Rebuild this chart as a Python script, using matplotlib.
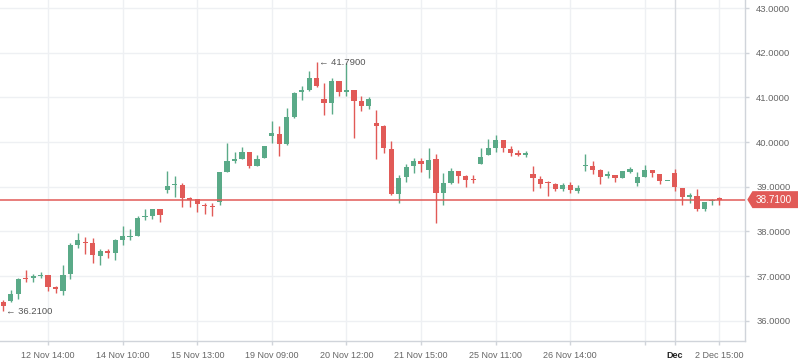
import numpy as np
import matplotlib
matplotlib.use("Agg")
import matplotlib.pyplot as plt
import matplotlib.transforms as mtransforms
from matplotlib.patches import Polygon

# OHLC values (one candle per index)
opens = [36.42, 36.44, 36.59, 36.95, 36.95, 36.99, 37.03, 36.75, 36.66, 37.04,
         37.69, 37.77, 37.73, 37.44, 37.57, 37.51, 37.80, 37.87, 37.90, 38.32,
         38.34, 38.49, 38.93, 39.04, 39.04, 38.74, 38.73, 38.58, 38.57, 38.65,
         39.32, 39.58, 39.62, 39.77, 39.46, 39.64, 40.14, 40.18, 39.95, 40.56,
         41.11, 41.17, 41.44, 40.96, 40.88, 41.37, 41.11, 41.17, 40.92, 40.81,
         40.43, 40.37, 39.85, 38.83, 39.21, 39.46, 39.58, 39.37, 39.63, 38.85,
         39.09, 39.36, 39.25, 39.16, 39.50, 39.70, 39.87, 40.04, 39.84, 39.76,
         39.72, 39.29, 39.18, 39.10, 39.07, 38.94, 39.04, 38.90, 39.46, 39.47,
         39.37, 39.23, 39.27, 39.19, 39.34, 39.09, 39.21, 39.38, 39.29, 39.12,
         39.31, 38.98, 38.76, 38.80, 38.49, 38.67, 38.72]
highs = [36.46, 36.69, 36.96, 37.13, 37.05, 37.08, 37.03, 36.77, 37.24, 37.75,
         37.96, 37.87, 37.86, 37.60, 37.60, 37.83, 38.11, 38.06, 38.34, 38.49,
         38.49, 38.49, 39.36, 39.25, 39.09, 38.76, 38.73, 38.63, 38.63, 39.32,
         39.97, 39.77, 39.88, 39.77, 39.71, 39.90, 40.47, 40.36, 40.77, 41.12,
         41.26, 41.59, 41.79, 41.32, 41.43, 41.37, 41.76, 41.17, 41.02, 41.00,
         40.72, 40.39, 40.03, 39.27, 39.51, 39.65, 39.65, 39.87, 39.74, 39.31,
         39.41, 39.36, 39.27, 39.27, 39.87, 40.07, 40.16, 40.04, 39.90, 39.83,
         39.80, 39.47, 39.25, 39.12, 39.09, 39.08, 39.10, 39.04, 39.74, 39.58,
         39.40, 39.36, 39.27, 39.36, 39.45, 39.34, 39.49, 39.38, 39.29, 39.13,
         39.40, 38.98, 38.86, 38.95, 38.66, 38.72, 38.78]
lows = [36.21, 36.41, 36.49, 36.87, 36.87, 36.96, 36.66, 36.62, 36.57, 36.93,
        37.63, 37.49, 37.29, 37.25, 37.40, 37.35, 37.70, 37.80, 37.89, 38.26,
        38.27, 38.22, 38.85, 38.76, 38.54, 38.54, 38.43, 38.39, 38.35, 38.60,
        39.32, 39.53, 39.62, 39.41, 39.46, 39.64, 39.97, 39.68, 39.93, 40.53,
        40.95, 41.14, 41.24, 40.60, 40.62, 41.02, 41.02, 40.08, 40.70, 40.74,
        39.62, 39.75, 38.81, 38.63, 39.10, 39.30, 39.34, 39.19, 38.18, 38.58,
        39.07, 39.09, 38.99, 39.09, 39.50, 39.70, 39.78, 39.78, 39.68, 39.68,
        39.66, 38.91, 38.98, 38.80, 38.90, 38.91, 38.85, 38.85, 39.36, 39.28,
        39.07, 39.19, 39.10, 39.19, 39.30, 39.01, 39.21, 39.21, 39.05, 39.12,
        38.91, 38.58, 38.63, 38.45, 38.45, 38.60, 38.60]
closes = [36.32, 36.59, 36.93, 36.93, 36.99, 37.03, 36.75, 36.71, 37.03, 37.69,
          37.80, 37.73, 37.47, 37.55, 37.51, 37.80, 37.89, 37.89, 38.31, 38.34,
          38.49, 38.36, 39.02, 39.05, 38.74, 38.71, 38.61, 38.56, 38.54, 39.32,
          39.58, 39.61, 39.77, 39.46, 39.63, 39.90, 40.20, 39.95, 40.56, 41.10,
          41.17, 41.44, 41.26, 40.88, 41.37, 41.11, 41.17, 40.92, 40.81, 40.96,
          40.37, 39.86, 38.83, 39.20, 39.43, 39.58, 39.50, 39.60, 38.85, 39.09,
          39.36, 39.25, 39.16, 39.14, 39.67, 39.87, 40.04, 39.86, 39.76, 39.72,
          39.76, 39.19, 39.07, 39.08, 38.94, 39.04, 38.93, 38.98, 39.48, 39.37,
          39.21, 39.28, 39.19, 39.36, 39.39, 39.22, 39.38, 39.30, 39.12, 39.13,
          38.99, 38.76, 38.81, 38.51, 38.66, 38.69, 38.71]

tick_idx = [6, 16, 26, 36, 46, 56, 66, 76, 86, 90, 96]
tick_labels = ["12 Nov 14:00", "14 Nov 10:00", "15 Nov 13:00", "19 Nov 09:00",
               "20 Nov 12:00", "21 Nov 15:00", "25 Nov 11:00", "26 Nov 14:00",
               "", "Dec", "2 Dec 15:00"]
y_ticks = [36, 37, 38, 39, 40, 41, 42, 43]
last_price = 38.71

GREEN = "#5aaa88"
RED = "#e15a57"
GRID = "#eef0f3"
TEXT = "#666666"

plt.rcParams["font.family"] = ["Liberation Sans", "DejaVu Sans"]

fig = plt.figure(figsize=(7.98, 3.63), dpi=100)
ax = fig.add_axes([0, 22 / 363, 745 / 798, 341 / 363])

o = np.array(opens)
h = np.array(highs)
l = np.array(lows)
c = np.array(closes)
x = np.arange(len(o))
up = c >= o
colors = np.where(up, GREEN, RED)

# grid
for v in y_ticks:
    ax.axhline(v, color=GRID, lw=1, zorder=0)
for t in tick_idx:
    ax.axvline(t, color="#d8dbe0" if t == 90 else GRID, lw=1, zorder=0)

# candles
ax.vlines(x, l, h, colors=colors, lw=1, zorder=2)
body_lo = np.minimum(o, c)
body_h = np.maximum(np.abs(c - o), 0.03)
ax.bar(x, body_h, bottom=body_lo, width=0.7, color=colors, lw=0, zorder=3)

# last price line
ax.axhline(last_price, color=RED, lw=1.1, zorder=4)

ax.set_xlim(-0.44, 99.42)
ax.set_ylim(35.545, 43.18)

ax.set_xticks(tick_idx)
ax.set_xticklabels(tick_labels, fontsize=6.5, color=TEXT)
for lab in ax.get_xticklabels():
    if lab.get_text() == "Dec":
        lab.set_fontweight("bold")
        lab.set_color("#222222")
ax.yaxis.tick_right()
ax.set_yticks(y_ticks)
ax.set_yticklabels([f"{v:.4f}" for v in y_ticks], fontsize=6.8, color=TEXT)
ax.tick_params(axis="both", length=3, color="#d0d4da", width=1)
ax.tick_params(axis="y", pad=5)
ax.tick_params(axis="x", pad=4)

for side in ["top", "left"]:
    ax.spines[side].set_visible(False)
for side in ["right", "bottom"]:
    ax.spines[side].set_color("#d0d4da")
    ax.spines[side].set_linewidth(1)

# high / low annotations
hi_i = int(np.argmax(h))
lo_i = int(np.argmin(l))
ax.text(hi_i + 0.3, h[hi_i], f"\u2190 {h[hi_i]:.4f}", fontsize=6.8,
        color="#555555", va="center", ha="left", zorder=5)
ax.text(lo_i + 0.3, l[lo_i], f"\u2190 {l[lo_i]:.4f}", fontsize=6.8,
        color="#555555", va="center", ha="left", zorder=5)

# last price tag on the right axis
trans = mtransforms.blended_transform_factory(ax.transAxes, ax.transData)
hh = 0.19
tag = Polygon([[1.003, last_price], [1.01, last_price + hh], [1.072, last_price + hh],
               [1.072, last_price - hh], [1.01, last_price - hh]],
              closed=True, transform=trans, facecolor=RED, edgecolor="none",
              clip_on=False, zorder=6)
ax.add_patch(tag)
ax.text(1.0145, last_price, f"{last_price:.4f}", transform=trans, fontsize=7.2,
        color="white", va="center", ha="left", clip_on=False, zorder=7)

fig.savefig("out.png", dpi=100, facecolor="white")
